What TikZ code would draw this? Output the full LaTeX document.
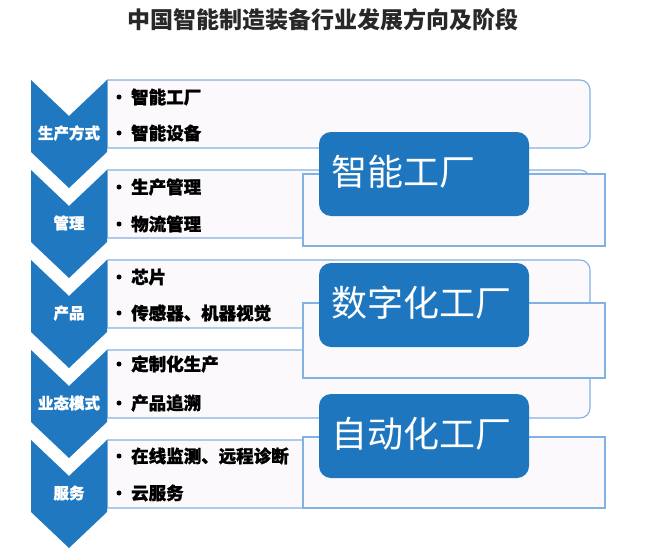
\documentclass[tikz,border=0pt]{standalone}
\usepackage{fontspec}
\newfontfamily\cjk{Noto Sans CJK SC}
\newfontfamily\cjkheavy{Noto Sans CJK SC}[BoldFeatures={FakeBold=1.2}]
\definecolor{chevblue}{RGB}{31,120,192}
\definecolor{bigblue}{RGB}{30,118,190}
\definecolor{rowline}{RGB}{130,178,225}
\definecolor{rowfill}{RGB}{251,249,252}
\definecolor{titlec}{RGB}{40,40,40}
\tikzset{
  chev/.style={fill=chevblue, draw=none},
  rowbox/.style={fill=rowfill, draw=rowline, line width=1.1pt, rounded corners=10pt},
  shadowrect/.style={fill=rowfill, draw=rowline, line width=1.1pt},
  bigbox/.style={fill=bigblue, draw=none, rounded corners=12pt},
  chevlabel/.style={font=\cjkheavy\bfseries\fontsize{15.5}{17}\selectfont, text=white, inner sep=0pt},
  item/.style={font=\cjkheavy\bfseries\fontsize{17.5}{20}\selectfont, text=black, anchor=west, inner sep=0pt},
  dot/.style={circle, fill=black, inner sep=0pt, minimum size=5pt},
  bigtext/.style={font=\cjk\fontsize{36}{40}\selectfont, text=white, anchor=west, inner sep=0pt},
  titletext/.style={font=\cjk\bfseries\fontsize{23}{26}\selectfont, text=titlec, inner sep=0pt}
}
\begin{document}
\begin{tikzpicture}[x=1pt, y=-1pt]
\useasboundingbox (0,0) rectangle (656,554);
\fill[white] (0,0) rectangle (656,554);

\node[titletext] (title) at (323,20) {中国智能制造装备行业发展方向及阶段};

% row boxes
\foreach \T in {80,170,260,350,440}{
  \begin{scope}
    \clip (107,\T-5) rectangle (620,\T+75);
    \draw[rowbox] (70,\T) rectangle (590,\T+68);
  \end{scope}
  \draw[draw=rowline, line width=1.1pt] (107,\T) -- (107,\T+68);
}

% offset frames behind the big boxes
\draw[shadowrect] (303,174) rectangle (605,246);
\draw[shadowrect] (303,303) rectangle (605,378);
\draw[shadowrect] (303,437) rectangle (605,508);

% chevrons
\foreach \T/\name/\lab in {80/c1/生产方式,170/c2/管理,260/c3/产品,350/c4/业态模式,440/c5/服务}{
  \fill[chev] (31,\T) -- (69,\T+36) -- (107,\T) -- (107,\T+72) -- (69,\T+108) -- (31,\T+72) -- cycle;
  \node[chevlabel] (\name) at (69,\T+53) {\lab};
}

% items
\foreach \y/\name/\txt in {
  97/i1a/智能工厂, 133/i1b/智能设备,
  187/i2a/生产管理, 224/i2b/物流管理,
  277/i3a/芯片, 313/i3b/传感器、机器视觉,
  364/i4a/定制化生产, 403/i4b/产品追溯,
  456/i5a/在线监测、远程诊断, 493/i5b/云服务}{
  \node[dot] (d\name) at (119,\y) {};
  \node[item] (\name) at (131,\y) {\txt};
}

% big blue boxes
\fill[bigbox] (319,132) rectangle (529,216);
\node[bigtext] (b1) at (331,172) {智能工厂};
\fill[bigbox] (319,263) rectangle (529,347);
\node[bigtext] (b2) at (331,303) {数字化工厂};
\fill[bigbox] (319,394) rectangle (529,478);
\node[bigtext] (b3) at (331,434) {自动化工厂};
\end{tikzpicture}
\end{document}
